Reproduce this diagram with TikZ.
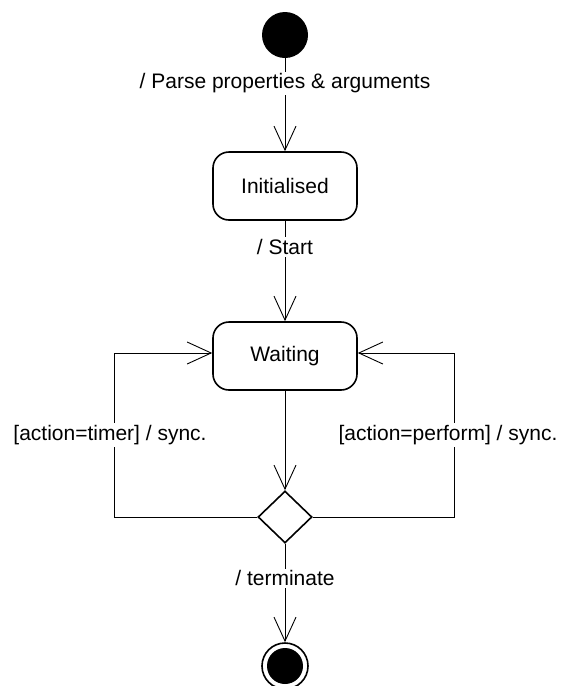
\documentclass[tikz,border=0pt]{standalone}
\usepackage{fontspec}
\setmainfont{Liberation Sans}
\usetikzlibrary{arrows.meta,shapes.geometric}
\begin{document}
\begin{tikzpicture}[x=1pt,y=-1pt,
  font=\fontsize{21}{25}\selectfont,
  statebox/.style={draw,line width=1.6pt,rounded corners=16pt,minimum width=144pt,minimum height=68pt,inner sep=0pt},
  conn/.style={line width=0.9pt,-{Straight Barb[length=24pt,width=22pt,line width=0.9pt]}},
  plain/.style={line width=0.9pt},
  lbl/.style={fill=white,inner sep=2pt}]
\useasboundingbox (0,0) rectangle (561,686);
\node[circle,fill=black,minimum size=46pt,inner sep=0pt] (init) at (285,35) {};
\node[statebox] (initd) at (285,186) {Initialised};
\node[statebox] (wait) at (285,356) {Waiting};
\node[diamond,draw,line width=1.6pt,minimum width=54pt,minimum height=52pt,inner sep=0pt,aspect=1] (dec) at (285,517) {};
\node[circle,draw,line width=1.6pt,minimum size=46pt,inner sep=0pt] (fin) at (285,666) {};
\node[circle,fill=black,minimum size=36pt,inner sep=0pt] (finin) at (285,666) {};
\coordinate (lb) at (114,517);
\coordinate (lt) at (114,353);
\coordinate (rb) at (454,517);
\coordinate (rt) at (454,353);
\draw[conn] (init) -- node[lbl,pos=0.27] {/ Parse properties \& arguments} (initd);
\draw[conn] (initd) -- node[lbl,pos=0.26] {/ Start} (wait);
\draw[conn] (wait) -- (dec);
\draw[conn] (dec.south) -- node[lbl,pos=0.35] {/ terminate} (fin.north);
\draw[plain] (dec.west) -- (lb) -- (lt);
\draw[conn] (lt) -- (wait.west |- lt);
\draw[plain] (dec.east) -- (rb) -- (rt);
\draw[conn] (rt) -- (wait.east |- rt);
\node[lbl] (ltxt) at (110,435) {[action=timer] / sync.};
\node[lbl] (rtxt) at (448,435) {[action=perform] / sync.};
\end{tikzpicture}
\end{document}
